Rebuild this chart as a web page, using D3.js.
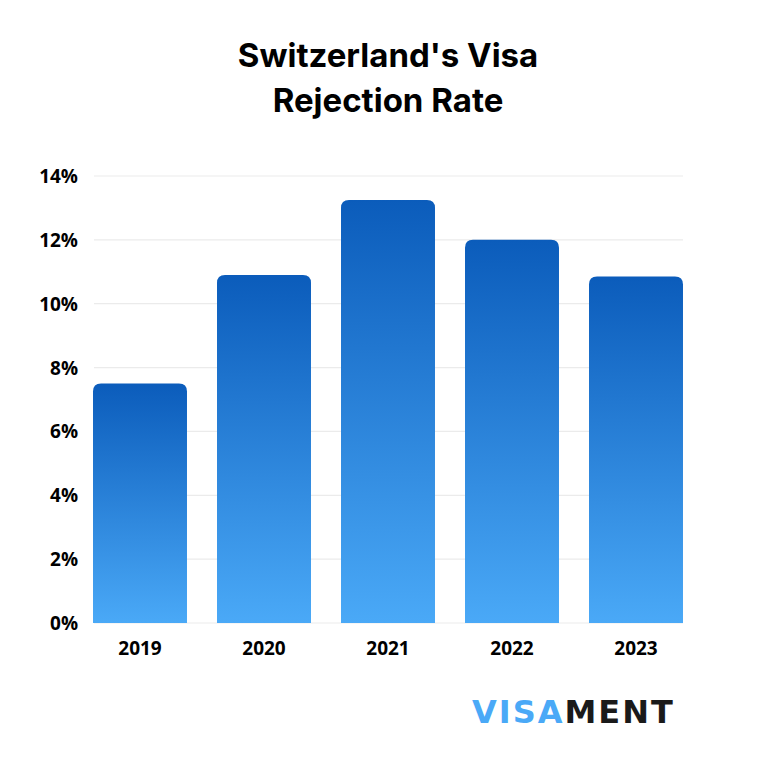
<!DOCTYPE html>
<html><head><meta charset="utf-8">
<script src="https://cdn.jsdelivr.net/npm/d3@7"></script>
<style>body{margin:0;background:#fff}</style></head>
<body><svg id="c" width="768" height="768"></svg>
<script>
const years = ["2019","2020","2021","2022","2023"];
const rates = [7.5, 10.9, 13.25, 12.0, 10.85];
const ticks = [0,2,4,6,8,10,12,14];

const svg = d3.select("#c");
svg.append("rect").attr("width",768).attr("height",768).attr("fill","#fff");
const defs = svg.append("defs");
const g = defs.append("linearGradient").attr("id","bg").attr("x1",0).attr("y1",0).attr("x2",0).attr("y2",1);
g.append("stop").attr("offset","0%").attr("stop-color","#0b5cbb");
g.append("stop").attr("offset","100%").attr("stop-color","#4aa9f7");

const x = d3.scaleBand().domain(years).range([78,698]).paddingInner(0.242).paddingOuter(0.121);
const y = d3.scaleLinear().domain([0,14]).range([623,176]);

svg.append("text").attr("x",388).attr("y",67).attr("text-anchor","middle")
  .attr("font-family","Inter, sans-serif").attr("font-weight",700).attr("font-size",33).text("Switzerland's Visa");
svg.append("text").attr("x",388).attr("y",112).attr("text-anchor","middle")
  .attr("font-family","Inter, sans-serif").attr("font-weight",700).attr("font-size",33).text("Rejection Rate");

svg.selectAll("line.grid").data(ticks).join("line").attr("class","grid")
  .attr("x1",94).attr("x2",683).attr("y1",d=>y(d)).attr("y2",d=>y(d))
  .attr("stroke","#ebebeb").attr("stroke-width",1.2);
svg.selectAll("text.yt").data(ticks).join("text").attr("class","yt")
  .attr("x",78).attr("y",d=>y(d)+7).attr("text-anchor","end")
  .attr("font-family","'Open Sans', sans-serif").attr("font-weight",700).attr("font-size",19)
  .text(d=>d+"%");

const r = 8;
svg.selectAll("path.bar").data(years).join("path").attr("class","bar")
  .attr("fill","url(#bg)")
  .attr("d",(d,i)=>{
    const x0=x(d), w=x.bandwidth(), t=y(rates[i]), b=y(0);
    return `M${x0},${b}V${t+r}Q${x0},${t} ${x0+r},${t}H${x0+w-r}Q${x0+w},${t} ${x0+w},${t+r}V${b}Z`;
  });
svg.selectAll("text.xt").data(years).join("text").attr("class","xt")
  .attr("x",d=>x(d)+x.bandwidth()/2).attr("y",655).attr("text-anchor","middle")
  .attr("font-family","'Open Sans', sans-serif").attr("font-weight",700).attr("font-size",19)
  .text(d=>d);

const logo = svg.append("text").attr("x",472).attr("y",723)
  .attr("font-family","'DejaVu Sans', sans-serif").attr("font-weight",700).attr("font-size",32).attr("letter-spacing",2);
logo.append("tspan").attr("fill","#4aa9f7").text("VISA");
logo.append("tspan").attr("fill","#1a1a1a").text("MENT");
</script></body></html>
